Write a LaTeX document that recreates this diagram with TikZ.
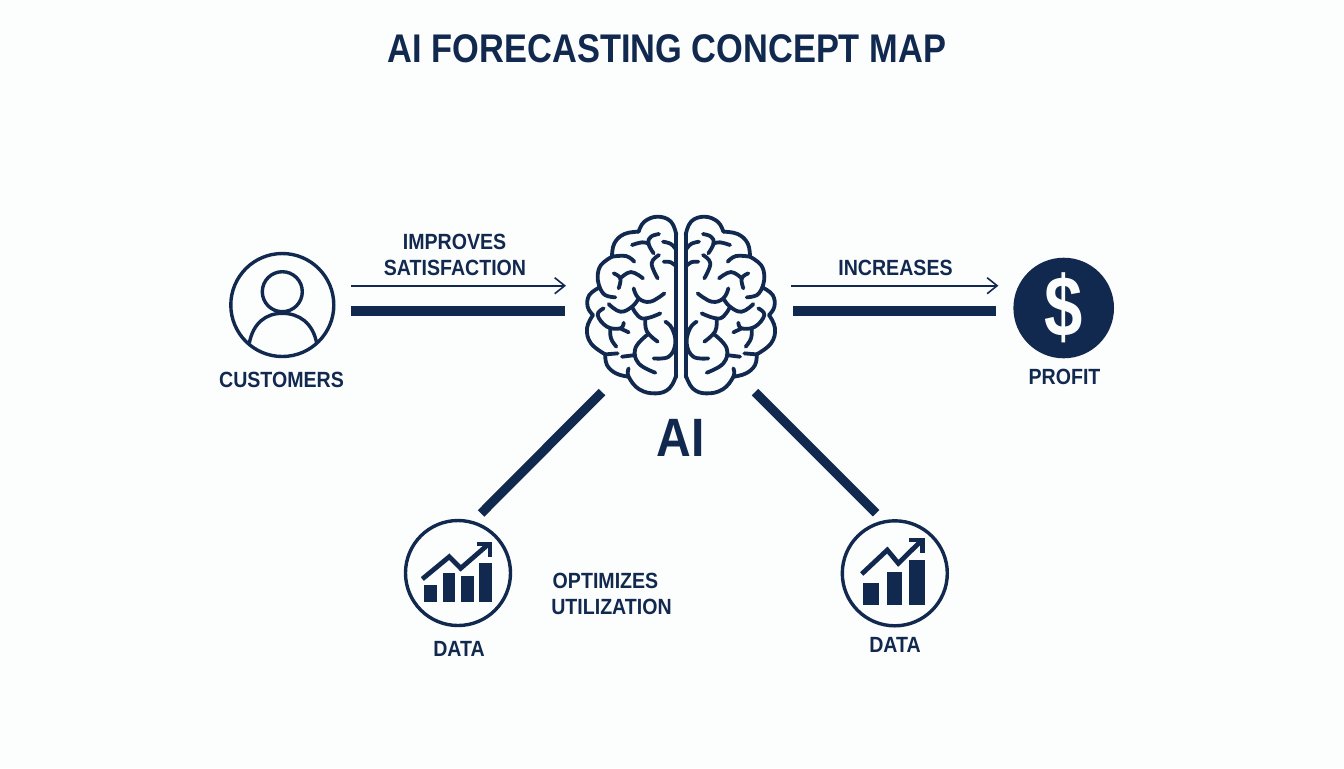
\documentclass[tikz,border=0pt]{standalone}
\usepackage{fontspec}
\setmainfont[FakeStretch=.89]{Liberation Sans}
\newfontfamily\titlefont[FakeStretch=.86]{Liberation Sans}
\newfontfamily\dollarfont[FakeStretch=.8]{Liberation Sans}
\usetikzlibrary{arrows.meta}
\definecolor{navy}{HTML}{12294F}
\definecolor{paper}{HTML}{FCFDFD}
\tikzset{
  thinarrow/.style={navy,line width=.8pt,-{Straight Barb[length=5pt,width=8pt]}},
  thickbar/.style={navy,line width=4.6pt},
  iconline/.style={navy,line width=1.7pt},
  lobe/.style={navy,line width=1.9pt,line cap=round,line join=round},
  iconring/.style={circle,draw=navy,line width=1.7pt,inner sep=0pt,outer sep=0pt},
  chartline/.style={navy,line width=2.4pt,line join=miter},
  labeltext/.style={text=navy,inner sep=0pt,font=\bfseries\fontsize{11}{11}\selectfont},
}
% one half of the brain, axis at x=0
\newcommand{\brainhalf}{%
\draw[lobe] (-14,100) -- (-14,530);
\draw[lobe] plot[smooth,tension=.7] coordinates {(-14,105) (-30,65) (-70,50) (-110,65) (-127,95)};
\draw[lobe] plot[smooth,tension=.7] coordinates {(-127,95) (-170,102) (-200,130) (-207,170)};
\draw[lobe] plot[smooth,tension=.7] coordinates {(-207,170) (-240,195) (-250,230) (-244,262)};
\draw[lobe] plot[smooth,tension=.7] coordinates {(-244,262) (-275,285) (-280,320) (-264,345)};
\draw[lobe] plot[smooth,tension=.7] coordinates {(-264,345) (-282,385) (-270,430) (-227,463)};
\draw[lobe] plot[smooth,tension=.7] coordinates {(-227,463) (-222,495) (-195,520) (-157,530)};
\draw[lobe] plot[smooth,tension=.7] coordinates {(-157,505) (-157,530) (-125,568) (-75,580) (-35,565) (-14,525)};
\draw[lobe] plot[smooth,tension=.7] coordinates {(-66,102) (-90,110) (-98,130) (-82,160)};
\draw[lobe] plot[smooth,tension=.7] coordinates {(-147,135) (-117,127) (-96,131)};
\draw[lobe] plot[smooth,tension=.7] coordinates {(-54,125) (-30,132) (-14,150)};
\draw[lobe] plot[smooth,tension=.7] coordinates {(-52,185) (-30,187) (-14,200)};
\draw[lobe] plot[smooth,tension=.7] coordinates {(-66,165) (-88,190) (-70,235)};
\draw[lobe] plot[smooth,tension=.7] coordinates {(-207,170) (-165,168) (-140,185)};
\draw[lobe] plot[smooth,tension=.7] coordinates {(-202,220) (-182,235) (-187,265)};
\draw[lobe] plot[smooth,tension=.7] coordinates {(-182,235) (-150,216) (-114,235)};
\draw[lobe] plot[smooth,tension=.7] coordinates {(-244,262) (-228,285) (-197,292)};
\draw[lobe] plot[smooth,tension=.7] coordinates {(-142,265) (-127,295) (-92,305) (-50,280)};
\draw[lobe] plot[smooth,tension=.7] coordinates {(-127,295) (-147,320) (-182,335) (-217,312)};
\draw[lobe] plot[smooth,tension=.7] coordinates {(-147,320) (-117,355) (-62,340)};
\draw[lobe] plot[smooth,tension=.7] coordinates {(-107,360) (-102,395) (-70,425)};
\draw[lobe] plot[smooth,tension=.7] coordinates {(-232,325) (-250,345) (-222,380) (-182,385) (-172,368)};
\draw[lobe] plot[smooth,tension=.7] coordinates {(-182,385) (-157,397)};
\draw[lobe] plot[smooth,tension=.7] coordinates {(-212,385) (-210,415) (-194,440)};
\draw[lobe] plot[smooth,tension=.7] coordinates {(-102,405) (-137,445) (-127,490) (-77,518)};
\draw[lobe] plot[smooth,tension=.7] coordinates {(-177,470) (-137,465)};
\draw[lobe] plot[smooth,tension=.7] coordinates {(-227,463) (-190,460)};
\draw[lobe] plot[smooth,tension=.7] coordinates {(-47,365) (-27,385) (-17,430) (-37,470) (-82,475)};
}
\begin{document}
\begin{tikzpicture}[x=.5pt,y=-.5pt]
\useasboundingbox (0,0) rectangle (1344,768);
\fill[paper] (0,0) rectangle (1344,768);
\node[labeltext,font=\titlefont\bfseries\fontsize{20}{20}\selectfont] (title) at (667,49) {AI FORECASTING CONCEPT MAP};
% icons
\node[iconring,minimum size=51.5pt] (customers) at (282.3,305) {};
\node[minimum width=95pt,minimum height=90pt,inner sep=0pt,outer sep=0pt] (brain) at (681,305) {};
\node[circle,fill=navy,inner sep=0pt,outer sep=0pt,minimum size=50.3pt,text=paper,font=\dollarfont\bfseries\fontsize{43}{43}\selectfont] (profit) at (1063.7,308) {\$};
\node[iconring,minimum size=52.5pt] (dataleft) at (458,573) {};
\node[iconring,minimum size=52.5pt] (dataright) at (894.8,573.3) {};
% person
\node[iconring,minimum size=20pt] (head) at (282.3,291.7) {};
\draw[iconline] (249.3,343.3) .. controls (253,323) and (266,313.3) .. (282.3,313.3) .. controls (299,313.3) and (313,323) .. (316.7,343.3);
% brain
\begin{scope}[shift={(681,200)},x=.1667pt,y=-.1667pt]
\brainhalf
\begin{scope}[xscale=-1]
\brainhalf
\end{scope}
\end{scope}
% connectors
\draw[thinarrow] ([shift={(17.5,-19.3)}]customers.east) -- ([shift={(-20,-19.3)}]brain.west);
\draw[thickbar] ([shift={(17.5,6)}]customers.east) -- ([shift={(-21,6)}]brain.west);
\draw[thinarrow] ([shift={(15,-19.3)}]brain.east) -- ([shift={(-15,-22.3)}]profit.west);
\draw[thickbar] ([shift={(17,6)}]brain.east) -- ([shift={(-17,3)}]profit.west);
\draw[thickbar] ([shift={(16,-3)}]brain.south west) -- ([shift={(-14,-22.5)}]dataleft.north east);
\draw[thickbar] ([shift={(-21,-3)}]brain.south east) -- ([shift={(18.5,-23)}]dataright.north west);
% charts
\fill[navy] (424.3,585) rectangle (437,601.7);
\fill[navy] (442.7,572.7) rectangle (455,601.7);
\fill[navy] (461.3,576) rectangle (473.7,601.7);
\fill[navy] (479.3,562.7) rectangle (492.3,601.7);
\draw[chartline] (422.3,579) -- (449.3,556.7) -- (460.7,568.3) -- (487.5,545);
\draw[chartline] (476.7,544) -- (490,544) -- (490,556.7);
\fill[navy] (863.3,582.7) rectangle (879.3,605);
\fill[navy] (886.7,572.3) rectangle (902,605);
\fill[navy] (909.3,560) rectangle (925,605);
\draw[chartline] (861.7,574) -- (887.3,550) -- (898.3,563.3) -- (921,541);
\draw[chartline] (909.3,540) -- (922.7,540) -- (922.7,552.7);
% labels
\node[labeltext] (improves) at (454.5,242) {IMPROVES};
\node[labeltext] (satisfaction) at (455,268) {SATISFACTION};
\node[labeltext] (increases) at (895.5,268) {INCREASES};
\node[labeltext] (customerslabel) at (281.5,380) {CUSTOMERS};
\node[labeltext] (profitlabel) at (1064.5,377) {PROFIT};
\node[labeltext,font=\bfseries\fontsize{27}{27}\selectfont] (ailabel) at (680.5,438) {AI};
\node[labeltext] (optimizes) at (605.5,581) {OPTIMIZES};
\node[labeltext] (utilization) at (611.5,607) {UTILIZATION};
\node[labeltext] (dataleftlabel) at (459,649) {DATA};
\node[labeltext] (datarightlabel) at (895,645) {DATA};
\end{tikzpicture}
\end{document}
